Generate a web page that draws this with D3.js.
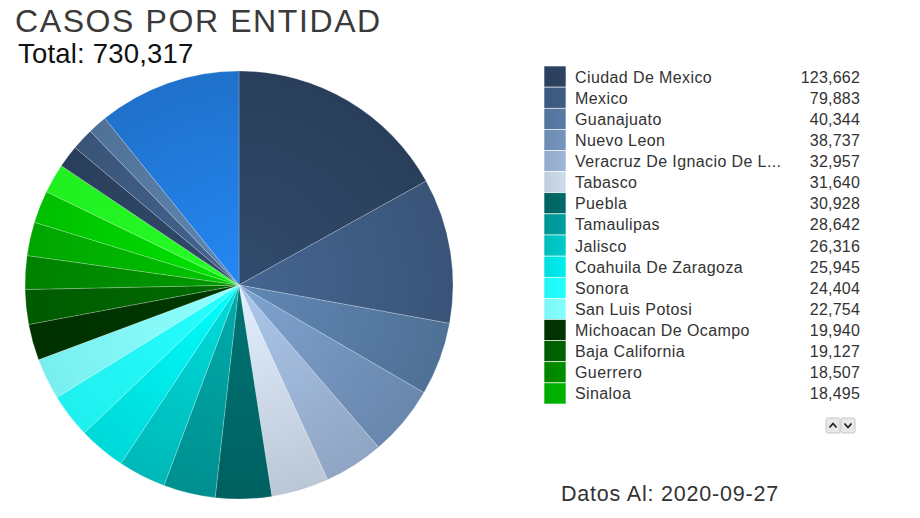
<!DOCTYPE html>
<html>
<head>
<meta charset="utf-8">
<script src="https://cdn.jsdelivr.net/npm/d3@7"></script>
<style>
  body { margin: 0; background: #fff; }
  svg { font-family: "Liberation Sans", Arial, sans-serif; }
</style>
</head>
<body>
<svg id="chart" width="920" height="518"></svg>
<script>
// entidades en orden del pastel (sentido horario desde arriba)
const estados = ["Ciudad De Mexico", "Mexico", "Guanajuato", "Nuevo Leon",
  "Veracruz De Ignacio De La Llave", "Tabasco", "Puebla", "Tamaulipas", "Jalisco",
  "Coahuila De Zaragoza", "Sonora", "San Luis Potosi", "Michoacan De Ocampo",
  "Baja California", "Guerrero", "Sinaloa", "Yucatan", "Oaxaca", "Chihuahua",
  "Hidalgo", "Quintana Roo", "Otros"];
const casos = [123662, 79883, 40344, 38737, 32957, 31640, 30928, 28642, 26316,
  25945, 24404, 22754, 19940, 19127, 18507, 18495, 17880, 16260, 12400, 12170,
  10560, 78766];
const fecha = "2020-09-27";

const blues = ["#2c4260", "#3d5a80", "#5578a0", "#7090b8", "#98b0d0", "#c8d4e4"],
  cyans = ["#006666", "#009999", "#00c4c4", "#00e6e6", "#22ffff", "#80ffff"],
  greens = ["#003300", "#006000", "#008a00", "#00b000", "#00cc00", "#22ff22"],
  otrosColor = "#2178d8";

let width = 920,
  height = 518,
  cx = 239,
  cy = 285,
  radius = 214,
  legendRows = 16;

const palette = blues.concat(cyans, greens);
const data = estados.map((d, i) => ({ name: d, value: casos[i] }));
const color = d3.scaleOrdinal()
  .domain(estados)
  .range(estados.map((d, i) => d == "Otros" ? otrosColor : palette[i % palette.length]));

const fmt = d3.format(",");
const svg = d3.select("#chart");
const defs = svg.append("defs");

// degradado radial: claro al centro, oscuro en el borde
// (coordenadas locales del grupo trasladado, centro en 0,0)
data.forEach((d, i) => {
  let c = color(d.name);
  let g = defs.append("radialGradient")
    .attr("id", "g" + i)
    .attr("gradientUnits", "userSpaceOnUse")
    .attr("cx", 0).attr("cy", 0).attr("r", radius);
  g.append("stop").attr("offset", "0%").attr("stop-color", d3.color(c).brighter(0.35));
  g.append("stop").attr("offset", "100%").attr("stop-color", d3.color(c).darker(0.18));

  let s = defs.append("linearGradient").attr("id", "s" + i);
  s.append("stop").attr("offset", "0%").attr("stop-color", d3.color(c).darker(0.1));
  s.append("stop").attr("offset", "100%").attr("stop-color", d3.color(c).brighter(0.1));
});

svg.append("text")
  .attr("x", 15).attr("y", 32)
  .attr("font-size", 32).attr("letter-spacing", 1.6).attr("fill", "#3a3a3a")
  .text("CASOS POR ENTIDAD");

svg.append("text")
  .attr("x", 18).attr("y", 63)
  .attr("font-size", 27.5).attr("letter-spacing", 0.2).attr("fill", "#111")
  .text("Total: " + fmt(d3.sum(casos)));

const pie = d3.pie().sort(null).value(d => d.value);
const arc = d3.arc().innerRadius(0).outerRadius(radius);

svg.append("g")
  .attr("transform", `translate(${cx},${cy})`)
  .selectAll("path")
  .data(pie(data))
  .enter().append("path")
  .attr("d", arc)
  .attr("fill", (d, i) => `url(#g${i})`)
  .attr("stroke", "rgba(255,255,255,0.35)")
  .attr("stroke-width", 0.6);

// leyenda (primera pagina)
const y = d3.scaleBand()
  .domain(estados.slice(0, legendRows))
  .range([66, 404]);

const legend = svg.append("g");
const rows = legend.selectAll("g")
  .data(data.slice(0, legendRows))
  .enter().append("g")
  .attr("transform", d => `translate(0,${y(d.name)})`);

rows.append("rect")
  .attr("x", 544).attr("width", 22)
  .attr("height", y.bandwidth())
  .attr("fill", (d, i) => `url(#s${i})`)
  .attr("stroke", "#fff").attr("stroke-width", 0.6);

rows.append("text")
  .attr("x", 575).attr("y", y.bandwidth() / 2 + 6)
  .attr("font-size", 16).attr("letter-spacing", 0.4).attr("fill", "#333")
  .text(d => d.name)
  .each(function (d) {
    let t = d3.select(this), s = d.name;
    while (this.getComputedTextLength() > 208 && s.length > 1) {
      s = s.slice(0, -1);
      t.text(s.trimEnd() + "...");
    }
  });

rows.append("text")
  .attr("x", 860).attr("y", y.bandwidth() / 2 + 6)
  .attr("text-anchor", "end")
  .attr("font-size", 16).attr("letter-spacing", 0.2).attr("fill", "#333")
  .text(d => fmt(d.value));

// botones de pagina
const btn = svg.append("g").attr("transform", "translate(826,418)");
[0, 1].forEach(k => {
  let b = btn.append("g").attr("transform", `translate(${k * 15},0)`);
  b.append("rect").attr("width", 14).attr("height", 15).attr("rx", 1.5)
    .attr("fill", "#e8e8e8").attr("stroke", "#c8c8c8");
  b.append("path")
    .attr("d", k == 0 ? "M3.5,9.5 L7,5.5 L10.5,9.5" : "M3.5,5.5 L7,9.5 L10.5,5.5")
    .attr("fill", "none").attr("stroke", "#222").attr("stroke-width", 1.8);
});

svg.append("text")
  .attr("x", 561).attr("y", 501)
  .attr("font-size", 21.5).attr("letter-spacing", 0.8).attr("fill", "#333")
  .text("Datos Al: " + fecha);
</script>
</body>
</html>
